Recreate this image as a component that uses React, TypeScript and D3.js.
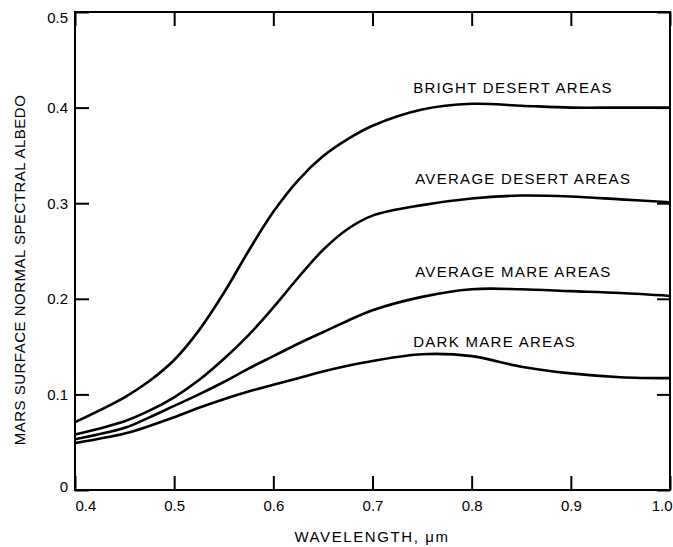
import { useRef, useEffect } from 'react';
import * as d3 from 'd3';

// wavelength samples (µm) and albedo
const WAVELENGTHS = [0.40, 0.45, 0.475, 0.50, 0.525, 0.55, 0.575, 0.60, 0.625, 0.65, 0.675, 0.70, 0.75, 0.80, 0.85, 0.90, 0.95, 1.00];
const BRIGHT_DESERT = [0.071, 0.097, 0.114, 0.136, 0.167, 0.206, 0.250, 0.291, 0.324, 0.349, 0.367, 0.381, 0.398, 0.404, 0.402, 0.400, 0.400, 0.400];
const AVERAGE_DESERT = [0.058, 0.072, 0.083, 0.097, 0.115, 0.137, 0.162, 0.191, 0.222, 0.251, 0.273, 0.287, 0.298, 0.305, 0.308, 0.307, 0.304, 0.301];
const AVERAGE_MARE = [0.053, 0.065, 0.076, 0.088, 0.100, 0.113, 0.127, 0.140, 0.153, 0.165, 0.177, 0.188, 0.202, 0.210, 0.210, 0.208, 0.206, 0.203];
const DARK_MARE = [0.049, 0.059, 0.067, 0.076, 0.086, 0.095, 0.103, 0.110, 0.117, 0.124, 0.130, 0.135, 0.142, 0.140, 0.129, 0.122, 0.118, 0.117];

const SERIES = [BRIGHT_DESERT, AVERAGE_DESERT, AVERAGE_MARE, DARK_MARE];
const LABELS = ['BRIGHT DESERT AREAS', 'AVERAGE DESERT AREAS', 'AVERAGE MARE AREAS', 'DARK MARE AREAS'];
const LABEL_X = [0.741, 0.743, 0.743, 0.741];
const LABEL_Y = [0.4205, 0.326, 0.228, 0.155];

const X_TICKS = [0.4, 0.5, 0.6, 0.7, 0.8, 0.9, 1.0];
const Y_TICKS = [0, 0.1, 0.2, 0.3, 0.4, 0.5];

const FONT = '"Liberation Sans", Arial, Helvetica, sans-serif';

export default function App() {
  const svgRef = useRef<SVGSVGElement>(null);

  useEffect(() => {
    document.body.style.margin = '0';
    const width = 673;
    const height = 547;
    const margin = { top: 12, right: 3, bottom: 57, left: 75 };
    const W = width - margin.left - margin.right;
    const H = height - margin.top - margin.bottom;

    const svg = d3.select(svgRef.current);
    svg.selectAll('*').remove();
    const g = svg.append('g').attr('transform', `translate(${margin.left},${margin.top})`);

    const x = d3.scaleLinear().domain([0.4, 1.0]).range([0, W]);
    const y = d3.scaleLinear().domain([0, 0.5]).range([H, 0]);

    const styleAxis = (sel: any) => {
      sel.select('.domain').remove();
      sel.selectAll('.tick line').attr('stroke', '#000').attr('stroke-width', 2);
      sel.selectAll('text').attr('fill', '#000').style('font-family', FONT).style('font-size', '15px');
    };

    // bottom + left with labels, ticks pointing inward
    const xAx = g.append('g').attr('transform', `translate(0,${H})`)
      .call(d3.axisBottom(x).tickValues(X_TICKS).tickSizeInner(-14).tickSizeOuter(0).tickPadding(10)
        .tickFormat(d => d3.format('.1f')(d as number)))
      .call(styleAxis);
    // end labels sit inside the frame, as in the original
    xAx.selectAll('.tick text').filter(d => d === 0.4).attr('text-anchor', 'start').attr('x', 0);
    xAx.selectAll('.tick text').filter(d => d === 1.0).attr('text-anchor', 'end').attr('x', 2);

    const yAx = g.append('g')
      .call(d3.axisLeft(y).tickValues(Y_TICKS).tickSizeInner(-14).tickSizeOuter(0).tickPadding(7)
        .tickFormat(d => (d === 0 ? '0' : d3.format('.1f')(d as number))))
      .call(styleAxis);
    yAx.selectAll('.tick text').filter(d => d === 0.5).attr('y', 6);
    yAx.selectAll('.tick text').filter(d => d === 0).attr('y', -3);

    // top + right ticks only
    g.append('g')
      .call(d3.axisTop(x).tickValues(X_TICKS).tickSizeInner(-14).tickSizeOuter(0).tickFormat(() => ''))
      .call(styleAxis);
    g.append('g').attr('transform', `translate(${W},0)`)
      .call(d3.axisRight(y).tickValues(Y_TICKS).tickSizeInner(-13).tickSizeOuter(0).tickFormat(() => ''))
      .call(styleAxis);

    // frame
    g.append('rect').attr('width', W).attr('height', H)
      .attr('fill', 'none').attr('stroke', '#000').attr('stroke-width', 2);

    const line = d3.line<number>()
      .x((_, i) => x(WAVELENGTHS[i]))
      .y(d => y(d))
      .curve(d3.curveCatmullRom.alpha(0.5));

    g.selectAll('path.curve').data(SERIES).enter().append('path')
      .attr('class', 'curve')
      .attr('d', d => line(d))
      .attr('fill', 'none')
      .attr('stroke', '#000')
      .attr('stroke-width', 2.6)
      .attr('stroke-linejoin', 'round');

    g.selectAll('text.lbl').data(LABELS).enter().append('text')
      .attr('class', 'lbl')
      .attr('x', (_, i) => x(LABEL_X[i]))
      .attr('y', (_, i) => y(LABEL_Y[i]))
      .attr('dy', '0.36em')
      .style('font-family', FONT).style('font-size', '15px').style('letter-spacing', '1.3px')
      .text(d => d);

    // axis titles
    svg.append('text')
      .attr('x', 372).attr('y', 542)
      .attr('text-anchor', 'middle')
      .style('font-family', FONT).style('font-size', '15px').style('letter-spacing', '1.6px')
      .text('WAVELENGTH, \u03BCm');
    svg.append('text')
      .attr('transform', 'translate(25,270) rotate(-90)')
      .attr('text-anchor', 'middle')
      .style('font-family', FONT).style('font-size', '15px').style('letter-spacing', '0.5px')
      .text('MARS SURFACE NORMAL SPECTRAL ALBEDO');
  }, []);

  return (
    <svg ref={svgRef} width={673} height={547}
      style={{ display: 'block', position: 'absolute', left: 0, top: 0, background: '#fff' }} />
  );
}
